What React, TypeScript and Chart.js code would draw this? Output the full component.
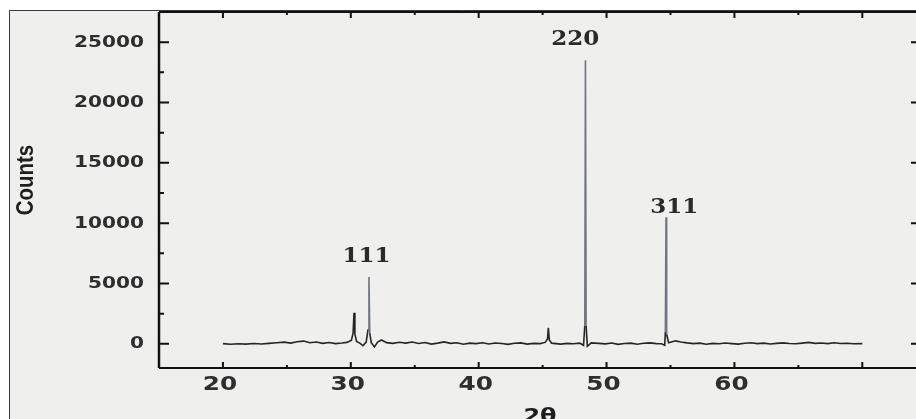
import React, { useEffect, useRef } from "react";
import { Chart, registerables } from "chart.js";

Chart.register(...registerables);

// ---- data ----
const twoTheta = [
  20.0, 20.6, 21.2, 21.8, 22.4, 23.0, 23.6, 24.2, 24.8, 25.3, 25.8, 26.3, 26.8, 27.3, 27.8, 28.3, 28.8, 29.3,
  29.7, 30.05, 30.18, 30.25, 30.32, 30.45, 30.7, 30.95, 31.2, 31.35, 31.42, 31.48, 31.6, 31.85, 32.1, 32.4,
  32.8, 33.3, 33.8, 34.3, 34.8, 35.3, 35.8, 36.3, 36.8, 37.3, 37.8, 38.3, 38.8, 39.3, 39.8, 40.3, 40.8,
  41.3, 41.8, 42.3, 42.8, 43.3, 43.8, 44.3, 44.8, 45.2, 45.38, 45.45, 45.52, 45.7, 46.4, 46.9, 47.4, 47.9,
  48.2, 48.3, 48.35, 48.4, 48.5, 48.8, 49.4, 49.9, 50.4, 50.9, 51.4, 51.9, 52.4, 52.9, 53.4, 53.9,
  54.3, 54.55, 54.6, 54.65, 54.7, 54.85, 55.4, 55.8, 56.3, 56.8, 57.3, 57.8, 58.3, 58.8, 59.3, 59.8,
  60.3, 60.8, 61.3, 61.8, 62.3, 62.8, 63.3, 63.8, 64.3, 64.8, 65.3, 65.8, 66.3, 66.8, 67.3, 67.8, 68.3,
  68.8, 69.3, 70.0,
];
const counts = [
  20, -30, 10, -20, 30, -10, 40, 90, 140, 60, 180, 230, 90, 150, 40, 110, 20, 70,
  120, 300, 900, 2570, 800, 200, 60, -150, 150, 1200, 5550, 900, 100, -250, 150, 320,
  100, 40, 130, 60, 150, 30, 110, -20, 60, 160, 40, 90, -30, 60, 20, 90, -10,
  70, 30, -40, 50, 80, -20, 40, 20, 120, 400, 1320, 350, 60, -20, 40, 10, 60,
  -120, 1500, 23500, 1500, -200, 80, 40, 0, 70, -40, 30, 60, -30, 50, 80, 20,
  10, -120, 1000, 10500, 800, 100, 250, 160, 80, 20, 60, -30, 40, 10, 70, 20,
  -20, 50, 90, 20, 60, -10, 40, 80, 30, 10, 60, 120, 40, 70, 20, 90, 30,
  50, 10, 20,
];

const xTickValues = [20, 30, 40, 50, 60, 70];
const xTickLabels = ["20", "30", "40", "50", "60", ""];
const xMinorValues = [25, 35, 45, 55, 65];
const yTickValues = [0, 5000, 10000, 15000, 20000, 25000];
const yTickLabels = ["0", "5000", "10000", "15000", "20000", "25000"];
const yMinorValues = [2500, 7500, 12500, 17500, 22500];

const peakNames = ["111", "220", "311"];
const peakLabelX = [31.23, 47.55, 55.3];
const peakLabelY = [7240, 25200, 11250];

const xTitle = "2θ";
const yTitle = "Counts";

function stretchText(
  ctx: CanvasRenderingContext2D,
  text: string,
  x: number,
  y: number,
  sx: number,
  align: CanvasTextAlign
) {
  ctx.save();
  ctx.translate(x, y);
  ctx.scale(sx, 1);
  ctx.textAlign = align;
  ctx.fillText(text, 0, 0);
  ctx.restore();
}

const decorPlugin = {
  id: "decor",
  beforeDraw(chart: any) {
    const ctx: CanvasRenderingContext2D = chart.ctx;
    const W = chart.width;
    const H = chart.height;
    ctx.save();
    ctx.fillStyle = "#ffffff";
    ctx.fillRect(0, 0, W, H);
    ctx.fillStyle = "#efefed";
    ctx.fillRect(9, 10, W - 9, H - 10);
    ctx.strokeStyle = "#3a3a3a";
    ctx.lineWidth = 1;
    ctx.beginPath();
    ctx.moveTo(9.5, H);
    ctx.lineTo(9.5, 10.5);
    ctx.lineTo(W, 10.5);
    ctx.stroke();
    ctx.restore();
  },
  afterDraw(chart: any) {
    const ctx: CanvasRenderingContext2D = chart.ctx;
    const xs = chart.scales.x;
    const ys = chart.scales.y;
    const a = chart.chartArea;
    ctx.save();
    // axis lines
    ctx.strokeStyle = "#111";
    ctx.lineWidth = 2.5;
    ctx.beginPath();
    ctx.moveTo(a.left, a.bottom);
    ctx.lineTo(a.left, a.top);
    ctx.stroke();
    ctx.lineWidth = 2;
    ctx.beginPath();
    ctx.moveTo(a.left, a.top);
    ctx.lineTo(a.right, a.top);
    ctx.moveTo(a.left, a.bottom);
    ctx.lineTo(a.right, a.bottom);
    ctx.stroke();

    // ticks
    ctx.lineWidth = 2;
    ctx.beginPath();
    yTickValues.forEach((v) => {
      const p = ys.getPixelForValue(v);
      ctx.moveTo(a.left, p);
      ctx.lineTo(a.left + 10, p);
      ctx.moveTo(a.right, p);
      ctx.lineTo(a.right - 5, p);
    });
    yMinorValues.forEach((v) => {
      const p = ys.getPixelForValue(v);
      ctx.moveTo(a.left, p);
      ctx.lineTo(a.left + 5, p);
    });
    xTickValues.forEach((v) => {
      const p = xs.getPixelForValue(v);
      ctx.moveTo(p, a.bottom + 1);
      ctx.lineTo(p, a.bottom - 6);
      ctx.moveTo(p, a.top);
      ctx.lineTo(p, a.top + 6);
    });
    xMinorValues.forEach((v) => {
      const p = xs.getPixelForValue(v);
      ctx.moveTo(p, a.bottom);
      ctx.lineTo(p, a.bottom - 3);
      ctx.moveTo(p, a.top);
      ctx.lineTo(p, a.top + 3);
    });
    ctx.stroke();

    // tick labels
    ctx.fillStyle = "#2e2e2e";
    ctx.textBaseline = "middle";
    ctx.font = 'bold 15px "DejaVu Sans"';
    yTickValues.forEach((v, i) => {
      stretchText(ctx, yTickLabels[i], 144, ys.getPixelForValue(v) + 0.5, 1.34, "right");
    });
    ctx.font = 'bold 19px "DejaVu Sans"';
    xTickValues.forEach((v, i) => {
      if (!xTickLabels[i]) return;
      stretchText(ctx, xTickLabels[i], xs.getPixelForValue(v) - 3, 385, 1.3, "center");
    });

    // peak labels
    ctx.fillStyle = "#2a2a2a";
    ctx.font = 'bold 20px "DejaVu Serif"';
    peakNames.forEach((t, i) => {
      stretchText(ctx, t, xs.getPixelForValue(peakLabelX[i]), ys.getPixelForValue(peakLabelY[i]), 1.15, "center");
    });

    // axis titles
    ctx.fillStyle = "#1e1e1e";
    ctx.save();
    ctx.translate(26, 180);
    ctx.rotate(-Math.PI / 2);
    ctx.scale(0.85, 1);
    ctx.font = 'bold 24px "Liberation Sans"';
    ctx.textAlign = "center";
    ctx.textBaseline = "middle";
    ctx.fillText(yTitle, 0, 0);
    ctx.restore();

    ctx.textBaseline = "alphabetic";
    ctx.font = 'bold 20px "DejaVu Sans"';
    stretchText(ctx, xTitle, 540, 422, 1.2, "center");
    ctx.restore();
  },
};

export default function App() {
  const ref = useRef<HTMLCanvasElement | null>(null);
  useEffect(() => {
    document.body.style.margin = "0";
    const canvas = ref.current;
    if (!canvas) return;
    const points = twoTheta.map((x, i) => ({ x, y: counts[i] }));
    const chart = new Chart(canvas, {
      type: "line",
      data: {
        datasets: [
          {
            data: points,
            borderColor: "#262626",
            borderWidth: 1.6,
            pointRadius: 0,
            tension: 0,
            fill: false,
            segment: {
              borderColor: (c: any) =>
                Math.max(c.p0.parsed.y, c.p1.parsed.y) > 3000 ? "#6f7580" : "#262626",
            },
          },
        ],
      },
      options: {
        responsive: false,
        animation: false,
        devicePixelRatio: 1,
        layout: { padding: { top: 12, left: 0, right: 0, bottom: 0 } },
        plugins: { legend: { display: false }, tooltip: { enabled: false }, title: { display: false } },
        scales: {
          x: {
            type: "linear",
            min: 15,
            max: 74.2,
            grid: { display: false },
            border: { display: false },
            ticks: { display: false },
            afterFit: (s: any) => {
              s.height = 51;
            },
          },
          y: {
            type: "linear",
            min: -2000,
            max: 27500,
            grid: { display: false },
            border: { display: false },
            ticks: { display: false },
            afterFit: (s: any) => {
              s.width = 159;
            },
          },
        },
      },
      plugins: [decorPlugin],
    });
    return () => chart.destroy();
  }, []);
  return (
    <div style={{ width: 916, height: 419 }}>
      <canvas ref={ref} width={916} height={419} style={{ display: "block" }} />
    </div>
  );
}
